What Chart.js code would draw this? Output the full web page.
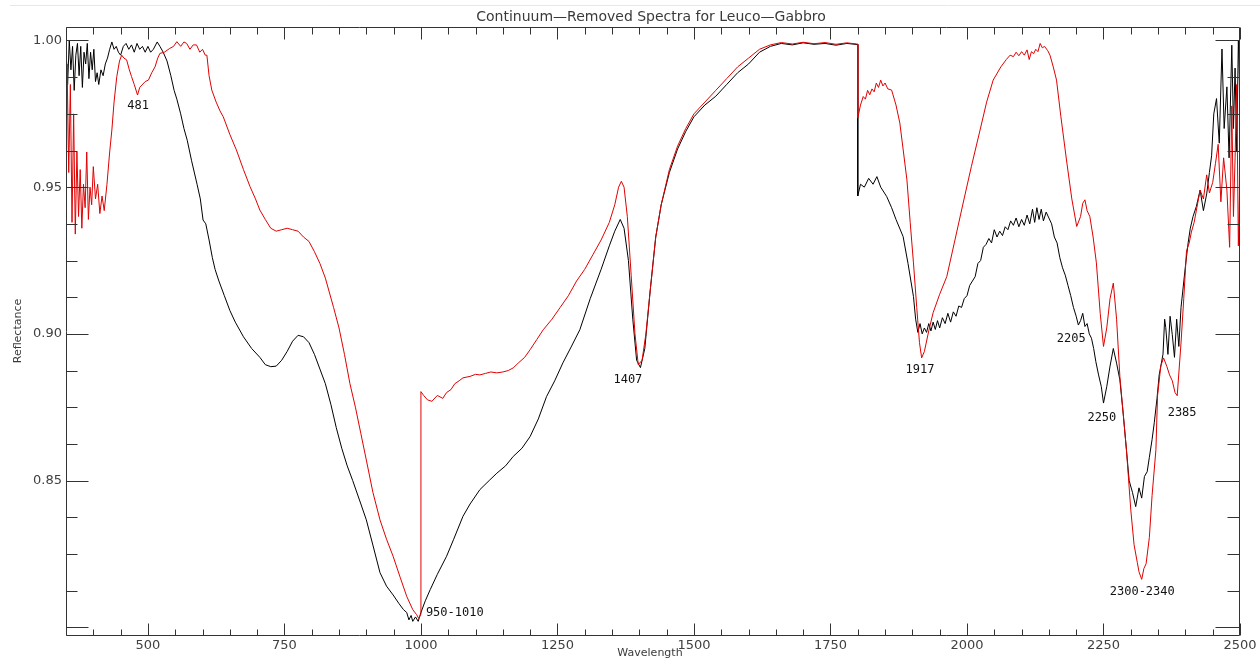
<!DOCTYPE html>
<html>
<head>
<meta charset="utf-8">
<title>Continuum-Removed Spectra for Leuco-Gabbro</title>
<script src="https://cdn.jsdelivr.net/npm/chart.js@4.4.1/dist/chart.umd.min.js"></script>
<style>
    html, body { margin: 0; padding: 0; background: #ffffff; }
    #spectraCanvas { display: block; }
</style>
</head>
<body>
<canvas id="spectraCanvas" width="1260" height="662"></canvas>
<script>

/**
 * Spectra (wavelength in nm, continuum-removed reflectance)
 * Each row of a wavelength array matches the same row of its reflectance array.
 */
const blackWavelength = [
    350, 353, 356, 359, 362, 365, 368, 371, 374, 377,
    380, 383, 386, 389, 392, 395, 398, 401, 404, 407,
    410, 414, 418, 422, 426, 430, 434, 438, 442, 446,
    450, 455, 460, 465, 470, 475, 480, 485, 490, 495,
    500, 505, 510, 517, 522, 528, 535, 542, 548, 553,
    560, 566, 572, 580, 590, 596, 601, 606, 612, 618,
    623, 630, 640, 650, 660, 675, 690, 705, 715, 725,
    735, 745, 755, 765, 775, 785, 795, 805, 815, 825,
    835, 845, 855, 865, 875, 890, 900, 912, 925, 937,
    949, 960, 968, 974, 978, 982, 985, 990, 995, 1000,
    1008, 1017, 1030, 1047, 1060, 1077, 1090, 1108, 1125, 1139,
    1155, 1169, 1185, 1200, 1215, 1230, 1245, 1260, 1275, 1291,
    1310, 1330, 1345, 1355, 1365, 1372, 1380, 1388, 1395, 1402,
    1410, 1420, 1430, 1440, 1455, 1470, 1485, 1500, 1520, 1540,
    1560, 1580, 1600, 1620, 1640, 1660, 1680, 1700, 1720, 1740,
    1760, 1780, 1800, 1800, 1805, 1812, 1820, 1828, 1835, 1842,
    1853, 1862, 1870, 1883, 1892, 1902, 1906, 1910, 1914, 1918,
    1922, 1926, 1930, 1934, 1938, 1942, 1946, 1950, 1955, 1960,
    1965, 1970, 1975, 1980, 1985, 1990, 1995, 2000, 2005, 2010,
    2015, 2020, 2025, 2030, 2035, 2040, 2045, 2050, 2055, 2060,
    2065, 2070, 2075, 2080, 2085, 2090, 2095, 2100, 2105, 2110,
    2115, 2120, 2124, 2128, 2132, 2136, 2140, 2145, 2150, 2155,
    2160, 2165, 2170, 2175, 2180, 2185, 2190, 2195, 2200, 2204,
    2208, 2212, 2216, 2220, 2224, 2228, 2232, 2236, 2241, 2246,
    2250, 2256, 2262, 2268, 2274, 2280, 2286, 2292, 2297, 2303,
    2309, 2315, 2320, 2325, 2330, 2334, 2339, 2343, 2348, 2352,
    2356, 2359, 2362, 2364, 2368, 2372, 2376, 2380, 2384, 2388,
    2392, 2396, 2400, 2405, 2409, 2414, 2420, 2427, 2433, 2439,
    2444, 2448, 2452, 2457, 2462, 2467, 2471, 2476, 2480, 2485,
    2488, 2491, 2494, 2497, 2500
];
const blackReflectance = [
    0.997, 0.985, 1.000, 0.990, 0.998, 0.983, 0.995, 0.999, 0.988, 0.998,
    0.984, 0.996, 0.992, 0.999, 0.987, 0.996, 0.990, 0.997, 0.986, 0.989,
    0.985, 0.990, 0.988, 0.992, 0.994, 0.997, 0.9995, 0.997, 0.998, 0.996,
    0.995, 0.998, 0.999, 0.997, 0.9985, 0.996, 0.999, 0.997, 0.998, 0.996,
    0.998, 0.996, 0.997, 0.9995, 0.998, 0.996, 0.993, 0.988, 0.983, 0.980,
    0.975, 0.970, 0.966, 0.959, 0.951, 0.946, 0.9388, 0.9375, 0.932, 0.926,
    0.922, 0.918, 0.913, 0.908, 0.904, 0.899, 0.895, 0.892, 0.8895, 0.8888,
    0.889, 0.891, 0.894, 0.8975, 0.8995, 0.899, 0.897, 0.893, 0.888, 0.883,
    0.876, 0.868, 0.861, 0.855, 0.850, 0.842, 0.8366, 0.828, 0.8186, 0.814,
    0.811, 0.808, 0.806, 0.805, 0.8025, 0.804, 0.802, 0.8035, 0.802, 0.805,
    0.809, 0.8128, 0.818, 0.8242, 0.830, 0.8378, 0.842, 0.8469, 0.850, 0.8525,
    0.855, 0.8582, 0.861, 0.865, 0.871, 0.8786, 0.884, 0.8901, 0.8955, 0.9014,
    0.912, 0.922, 0.930, 0.935, 0.939, 0.936, 0.925, 0.905, 0.891, 0.8885,
    0.895, 0.915, 0.933, 0.944, 0.955, 0.963, 0.969, 0.974, 0.978, 0.981,
    0.985, 0.989, 0.992, 0.996, 0.998, 0.9990, 0.9985, 0.9992, 0.9987, 0.9990,
    0.9984, 0.9990, 0.9986, 0.947, 0.951, 0.950, 0.953, 0.951, 0.9536, 0.950,
    0.9468, 0.943, 0.939, 0.9332, 0.924, 0.9127, 0.905, 0.9005, 0.9035, 0.900,
    0.902, 0.9005, 0.9035, 0.901, 0.904, 0.9015, 0.9045, 0.902, 0.9055, 0.9035,
    0.907, 0.904, 0.9075, 0.906, 0.9095, 0.909, 0.912, 0.913, 0.9165, 0.918,
    0.9195, 0.924, 0.925, 0.9295, 0.9305, 0.9325, 0.931, 0.9355, 0.933, 0.935,
    0.9335, 0.9365, 0.9355, 0.9385, 0.937, 0.9395, 0.9365, 0.939, 0.937, 0.9405,
    0.9375, 0.9425, 0.938, 0.943, 0.939, 0.9425, 0.9385, 0.9415, 0.9395, 0.9375,
    0.933, 0.931, 0.926, 0.9225, 0.920, 0.9165, 0.913, 0.909, 0.906, 0.903,
    0.9045, 0.907, 0.9025, 0.9035, 0.900, 0.8985, 0.895, 0.8905, 0.886, 0.882,
    0.8764, 0.882, 0.889, 0.895, 0.890, 0.8843, 0.873, 0.8605, 0.850, 0.846,
    0.8411, 0.8475, 0.844, 0.8514, 0.853, 0.8579, 0.864, 0.8697, 0.878, 0.886,
    0.890, 0.8931, 0.905, 0.9022, 0.893, 0.906, 0.8997, 0.892, 0.905, 0.8957,
    0.909, 0.916, 0.923, 0.931, 0.936, 0.940, 0.9434, 0.949, 0.942, 0.9477,
    0.955, 0.9607, 0.975, 0.9802, 0.965, 0.9971, 0.970, 0.9842, 0.960, 0.9984,
    0.970, 0.9906, 0.962, 1.000, 0.980
];

const redWavelength = [
    350, 352, 355, 358, 361, 364, 367, 370, 373, 376,
    379, 382, 385, 388, 391, 394, 397, 400, 404, 408,
    412, 416, 420, 425, 430, 434, 438, 443, 448, 452,
    456, 461, 466, 470, 475, 481, 485, 489, 495, 501,
    507, 513, 518, 522, 530, 540, 547, 553, 560, 566,
    571, 577, 583, 589, 595, 600, 605, 608, 612, 617,
    625, 632, 638, 650, 662, 675, 687, 697, 705, 715,
    725, 735, 745, 755, 765, 775, 785, 795, 805, 815,
    825, 840, 850, 860, 870, 880, 890, 900, 912, 925,
    937, 949, 962, 974, 985, 992, 996, 1000, 1000, 1005,
    1012, 1020, 1030, 1040, 1047, 1055, 1062, 1070, 1077, 1090,
    1100, 1108, 1118, 1128, 1139, 1150, 1160, 1169, 1178, 1190,
    1200, 1212, 1224, 1240, 1255, 1270, 1285, 1300, 1315, 1330,
    1345, 1355, 1362, 1367, 1372, 1378, 1385, 1392, 1398, 1405,
    1412, 1420, 1430, 1440, 1455, 1470, 1485, 1500, 1520, 1540,
    1560, 1580, 1600, 1620, 1640, 1660, 1680, 1700, 1720, 1740,
    1760, 1780, 1798, 1800, 1800, 1805, 1810, 1814, 1818, 1822,
    1826, 1830, 1834, 1838, 1842, 1846, 1850, 1855, 1862, 1870,
    1877, 1883, 1890, 1896, 1902, 1908, 1913, 1917, 1922, 1930,
    1938, 1950, 1963, 1978, 1993, 2008, 2024, 2036, 2048, 2062,
    2072, 2079, 2085, 2090, 2095, 2100, 2105, 2110, 2114, 2118,
    2122, 2126, 2130, 2134, 2138, 2142, 2148, 2152, 2158, 2164,
    2172, 2183, 2192, 2201, 2208, 2212, 2216, 2220, 2225, 2231,
    2237, 2244, 2250, 2256, 2262, 2268, 2274, 2280, 2286, 2292,
    2300, 2306, 2312, 2315, 2320, 2324, 2328, 2334, 2339, 2346,
    2349, 2355, 2360, 2366, 2371, 2376, 2381, 2385, 2392, 2397,
    2402, 2407, 2411, 2416, 2421, 2427, 2433, 2439, 2444, 2450,
    2455, 2460, 2465, 2470, 2476, 2481, 2485, 2488, 2491, 2494,
    2497, 2500
];
const redReflectance = [
    0.928, 0.992, 0.955, 0.985, 0.938, 0.975, 0.934, 0.962, 0.940, 0.956,
    0.936, 0.951, 0.943, 0.962, 0.939, 0.950, 0.944, 0.957, 0.946, 0.951,
    0.941, 0.947, 0.942, 0.951, 0.962, 0.9695, 0.979, 0.9877, 0.993, 0.995,
    0.994, 0.9934, 0.990, 0.9877, 0.985, 0.9814, 0.984, 0.9848, 0.986, 0.9865,
    0.989, 0.991, 0.994, 0.9956, 0.996, 0.9973, 0.998, 0.9996, 0.998, 0.9995,
    0.999, 0.997, 0.9985, 0.9985, 0.996, 0.997, 0.995, 0.995, 0.988, 0.9831,
    0.979, 0.976, 0.974, 0.968, 0.9627, 0.956, 0.9502, 0.946, 0.9422, 0.939,
    0.936, 0.935, 0.9355, 0.936, 0.9355, 0.935, 0.933, 0.9315, 0.928, 0.924,
    0.919, 0.909, 0.902, 0.893, 0.883, 0.875, 0.866, 0.857, 0.846, 0.8366,
    0.830, 0.8242, 0.817, 0.8105, 0.806, 0.8043, 0.803, 0.8045, 0.8803, 0.879,
    0.8775, 0.877, 0.879, 0.878, 0.880, 0.881, 0.883, 0.884, 0.885, 0.8855,
    0.8862, 0.886, 0.8865, 0.887, 0.8867, 0.887, 0.8875, 0.8884, 0.890, 0.892,
    0.8946, 0.898, 0.9014, 0.905, 0.909, 0.913, 0.918, 0.922, 0.927, 0.932,
    0.938, 0.944, 0.950, 0.952, 0.950, 0.940, 0.920, 0.900, 0.8895, 0.891,
    0.900, 0.915, 0.933, 0.944, 0.956, 0.964, 0.970, 0.975, 0.979, 0.983,
    0.987, 0.991, 0.994, 0.997, 0.9985, 0.9993, 0.9988, 0.9994, 0.9989, 0.9993,
    0.9987, 0.9992, 0.9988, 0.9988, 0.9736, 0.978, 0.9809, 0.980, 0.983, 0.9815,
    0.9835, 0.9825, 0.9855, 0.984, 0.9865, 0.9845, 0.9855, 0.9835, 0.9831, 0.978,
    0.9719, 0.963, 0.9525, 0.938, 0.9242, 0.909, 0.897, 0.8918, 0.894, 0.901,
    0.9072, 0.9135, 0.9195, 0.932, 0.9446, 0.957, 0.9695, 0.979, 0.9865, 0.991,
    0.9935, 0.995, 0.9945, 0.996, 0.9948, 0.9962, 0.995, 0.9968, 0.9935, 0.9962,
    0.9955, 0.997, 0.9962, 0.999, 0.9975, 0.998, 0.9965, 0.995, 0.991, 0.9865,
    0.974, 0.9582, 0.946, 0.9366, 0.940, 0.9445, 0.9457, 0.942, 0.9400, 0.933,
    0.9242, 0.907, 0.8957, 0.902, 0.912, 0.9173, 0.905, 0.8855, 0.873, 0.8605,
    0.840, 0.8281, 0.822, 0.8189, 0.8163, 0.820, 0.8216, 0.8306, 0.8449, 0.8605,
    0.8789, 0.8891, 0.8918, 0.8889, 0.886, 0.884, 0.880, 0.8789, 0.8969, 0.912,
    0.9283, 0.931, 0.9347, 0.938, 0.943, 0.949, 0.946, 0.9542, 0.948, 0.9516,
    0.958, 0.9646, 0.945, 0.960, 0.949, 0.9295, 0.9777, 0.940, 0.960, 0.985,
    0.930, 0.955
];

// Absorption feature labels (placed in data coordinates)
const featureText = ['481', '950-1010', '1407', '1917', '2205', '2250', '2385', '2300-2340'];
const featureWavelength = [482, 1062, 1379, 1914, 2191, 2247, 2394, 2321];
const featureReflectance = [0.9777, 0.8049, 0.8843, 0.8877, 0.8983, 0.8714, 0.8731, 0.8121];

// Axes
const xTickValues = [500, 750, 1000, 1250, 1500, 1750, 2000, 2250, 2500];
const yTickValues = [0.85, 0.90, 0.95, 1.00];
const xRange = [350, 2500];
const yRange = [0.797, 1.0046];
const xMinorStep = 50;
const yMinorStep = 0.0125;

const chartTitle = 'Continuum\u2014Removed Spectra for Leuco\u2014Gabbro';
const xTitle = 'Wavelength';
const yTitle = 'Reflectance';

function toPoints(xs, ys) {
    var points = [];
    var n = Math.min(xs.length, ys.length);
    for (var i = 0; i < n; i++) {
        points.push({ x: xs[i], y: ys[i] });
    }
    return points;
}

/**
 * Draws the IDL style frame : box, inward ticks on all four sides, titles and feature labels
 */
const idlFramePlugin = {
    id: 'idlFrame',
    afterDraw(chart) {
        const ctx = chart.ctx;
        const area = chart.chartArea;
        const xs = chart.scales.x;
        const ys = chart.scales.y;
        const left = Math.round(area.left) + 0.5;
        const right = Math.round(area.right) - 0.5;
        const top = Math.round(area.top) + 0.5;
        const bottom = Math.round(area.bottom) - 0.5;

        ctx.save();

        // faint rule along the top of the page
        ctx.strokeStyle = '#e8e8e8';
        ctx.lineWidth = 1;
        ctx.beginPath();
        ctx.moveTo(10, 5.5);
        ctx.lineTo(chart.width, 5.5);
        ctx.stroke();

        // box
        ctx.strokeStyle = '#333333';
        ctx.beginPath();
        ctx.moveTo(left, top);
        ctx.lineTo(right, top);
        ctx.lineTo(right, bottom);
        ctx.lineTo(left, bottom);
        ctx.closePath();
        ctx.stroke();

        // x ticks, bottom and top
        ctx.beginPath();
        for (var v = xRange[0]; v <= xRange[1]; v += xMinorStep) {
            var px = Math.round(xs.getPixelForValue(v)) + 0.5;
            var major = (v % 250 === 0);
            ctx.moveTo(px, bottom);
            ctx.lineTo(px, bottom - (major ? 12 : 6));
            ctx.moveTo(px, top);
            ctx.lineTo(px, top + (major ? 12 : 7));
        }
        ctx.stroke();

        // y ticks, left and right
        ctx.beginPath();
        for (var k = 64; k <= 80; k++) {
            var py = Math.round(ys.getPixelForValue(k * yMinorStep)) + 0.5;
            var isMajor = (k % 4 === 0);
            ctx.moveTo(left, py);
            ctx.lineTo(left + (isMajor ? 22 : 11), py);
            ctx.moveTo(right, py);
            ctx.lineTo(right - (isMajor ? 24 : 12), py);
        }
        ctx.stroke();

        // titles
        ctx.fillStyle = '#3a3a3a';
        ctx.textAlign = 'center';
        ctx.textBaseline = 'middle';
        ctx.font = '14px "DejaVu Sans"';
        ctx.fillText(chartTitle, 651, 17);

        ctx.font = '11px "DejaVu Sans"';
        ctx.fillText(xTitle, 650, 653);

        ctx.save();
        ctx.translate(18, 331);
        ctx.rotate(-Math.PI / 2);
        ctx.fillText(yTitle, 0, 0);
        ctx.restore();

        // feature labels
        ctx.fillStyle = '#111111';
        ctx.font = '12px "DejaVu Sans Mono"';
        for (var i = 0; i < featureText.length; i++) {
            ctx.fillText(featureText[i],
                xs.getPixelForValue(featureWavelength[i]),
                ys.getPixelForValue(featureReflectance[i]));
        }

        ctx.restore();
    }
};

const spectraChart = new Chart(document.getElementById('spectraCanvas'), {
    type: 'line',
    data: {
        datasets: [
            {
                label: 'red',
                data: toPoints(redWavelength, redReflectance),
                borderColor: '#e00000',
                borderWidth: 1,
                pointRadius: 0,
                tension: 0
            },
            {
                label: 'black',
                data: toPoints(blackWavelength, blackReflectance),
                borderColor: '#000000',
                borderWidth: 1,
                pointRadius: 0,
                tension: 0
            }
        ]
    },
    options: {
        responsive: false,
        animation: false,
        devicePixelRatio: 1,
        layout: {
            padding: { top: 27, right: 20, left: 0, bottom: 0 }
        },
        plugins: {
            legend: { display: false },
            title: { display: false },
            tooltip: { enabled: false }
        },
        scales: {
            x: {
                type: 'linear',
                min: xRange[0],
                max: xRange[1],
                grid: { display: false, drawTicks: false },
                border: { display: false },
                afterBuildTicks: (scale) => {
                    scale.ticks = xTickValues.map(v => ({ value: v }));
                },
                afterFit: (scale) => {
                    scale.height = 26;
                },
                ticks: {
                    autoSkip: false,
                    maxRotation: 0,
                    padding: 2,
                    color: '#404040',
                    font: { family: 'DejaVu Sans', size: 13 },
                    callback: (value) => String(value)
                }
            },
            y: {
                type: 'linear',
                min: yRange[0],
                max: yRange[1],
                grid: { display: false, drawTicks: false },
                border: { display: false },
                afterBuildTicks: (scale) => {
                    scale.ticks = yTickValues.map(v => ({ value: v }));
                },
                afterFit: (scale) => {
                    scale.width = 66;
                },
                ticks: {
                    autoSkip: false,
                    padding: 4,
                    color: '#404040',
                    font: { family: 'DejaVu Sans', size: 13 },
                    callback: (value) => Number(value).toFixed(2)
                }
            }
        }
    },
    plugins: [idlFramePlugin]
});
</script>
</body>
</html>
